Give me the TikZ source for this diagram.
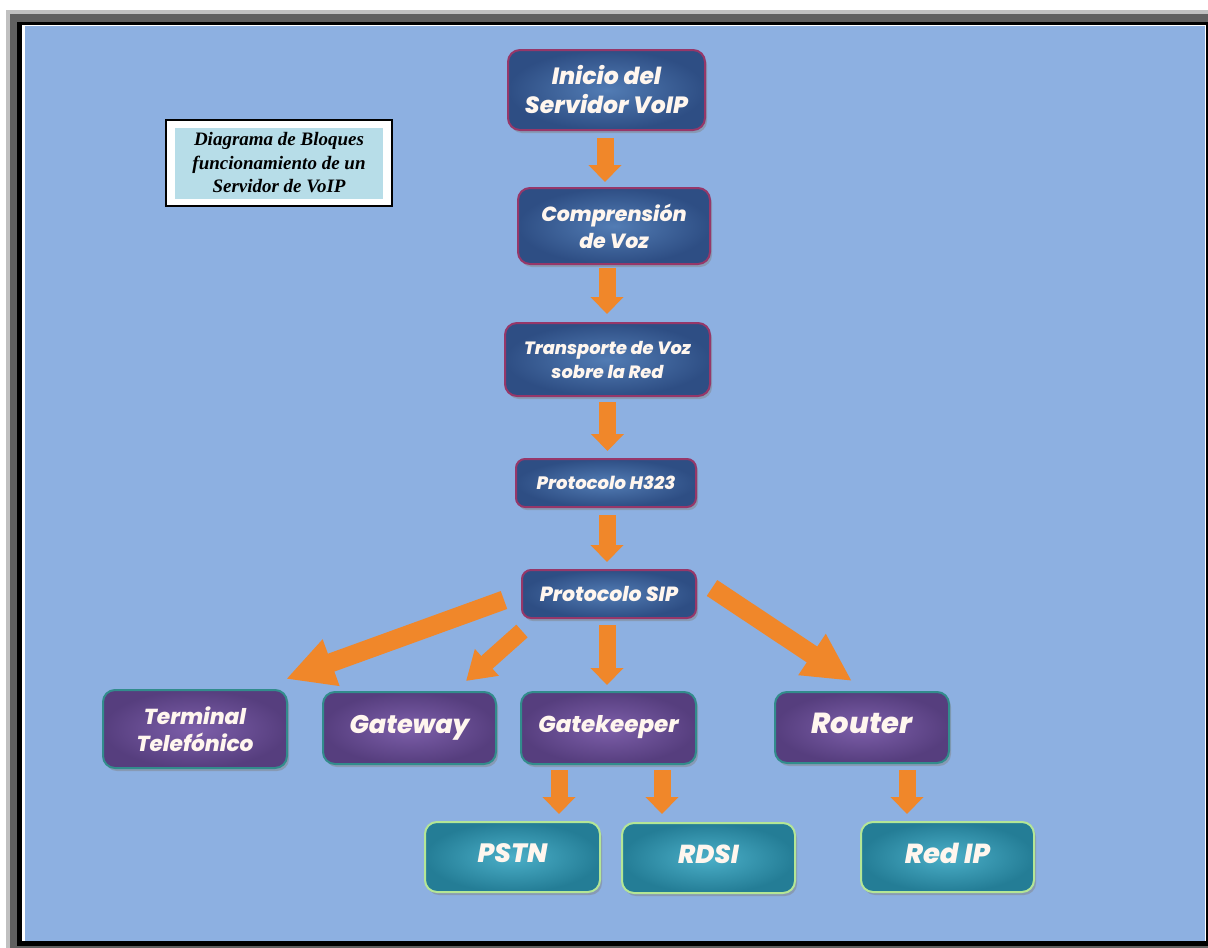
\documentclass[tikz,border=0pt]{standalone}
\usepackage{fontspec}
\newfontfamily\boxfont{Poppins}[BoldItalicFont={Poppins ExtraBold Italic}]
\newfontfamily\titlefont{Liberation Serif}
\usetikzlibrary{arrows.meta,shadows}
\definecolor{bgblue}{RGB}{141,176,225}
\definecolor{lgray}{RGB}{192,192,192}
\definecolor{dgray}{RGB}{96,96,96}
\definecolor{titlecyan}{RGB}{183,221,232}
\definecolor{blueedge}{RGB}{150,55,105}
\definecolor{bluein}{RGB}{82,124,180}
\definecolor{blueout}{RGB}{46,78,132}
\definecolor{purpedge}{RGB}{50,140,140}
\definecolor{purpin}{RGB}{125,95,170}
\definecolor{purpout}{RGB}{86,62,126}
\definecolor{tealedge}{RGB}{180,230,150}
\definecolor{tealin}{RGB}{75,175,200}
\definecolor{tealout}{RGB}{36,125,150}
\definecolor{arroworange}{RGB}{240,135,42}
\definecolor{boxtext}{RGB}{255,246,238}
\tikzset{
  box/.style={rounded corners=12pt, line width=2pt, align=center, inner sep=0pt,
    drop shadow={shadow xshift=2pt, shadow yshift=-3pt, opacity=0.45},
    text=boxtext},
  bluebox/.style={box, draw=blueedge, inner color=bluein, outer color=blueout},
  purpbox/.style={box, draw=purpedge, inner color=purpin, outer color=purpout},
  tealbox/.style={box, draw=tealedge, inner color=tealin, outer color=tealout},
  fatv/.style={draw=arroworange, line width=17pt, -{Triangle[width=32pt,length=17pt]}},
  fatd/.style={draw=arroworange, line width=19pt, -{Triangle[width=46pt,length=48pt]}},
  fatg/.style={draw=arroworange, line width=17pt, -{Triangle[width=34pt,length=28pt]}},
}
\newcommand{\bx}[2]{\boxfont\bfseries\itshape\fontsize{#1}{#2}\selectfont}
\begin{document}
\begin{tikzpicture}[x=1pt,y=-1pt]
\useasboundingbox (0,0) rectangle (1208,948);
% frame
\fill[white] (0,0) rectangle (1208,948);
\fill[lgray] (6,10) rectangle (1208,948);
\fill[dgray] (10,14) rectangle (1208,948);
\fill[black] (17,22) rectangle (1208,946);
\fill[white] (22,25) rectangle (1206,941);
\fill[bgblue] (25,26) rectangle (1205,941);

% title
\node[draw=black, line width=1.2pt, fill=white, minimum width=226pt, minimum height=86pt] (titleframe) at (279,163) {};
\node[fill=titlecyan, minimum width=208pt, minimum height=71pt, inner sep=0pt, align=center,
  font=\titlefont\bfseries\itshape\fontsize{19}{23.5}\selectfont] (title) at (279,163)
  {Diagrama de Bloques\\funcionamiento de un\\Servidor de VoIP};

% blue chain
\node[bluebox, minimum width=197pt, minimum height=80pt, font=\bx{23.5}{29}] (inicio) at (606.5,90) {Inicio del\\Servidor VoIP};
\node[bluebox, minimum width=192pt, minimum height=76pt, font=\bx{20.5}{27}] (compr) at (614,226) {Comprensión\\de Voz};
\node[bluebox, minimum width=205pt, minimum height=73pt, font=\bx{17.8}{24}] (transp) at (607.5,359.5) {Transporte de Voz\\sobre la Red};
\node[bluebox, minimum width=180pt, minimum height=48pt, rounded corners=9pt, font=\bx{18}{22}] (h323) at (606,483) {Protocolo H323};
\node[bluebox, minimum width=174pt, minimum height=48pt, rounded corners=9pt, font=\bx{20.5}{22}] (sip) at (609,594) {Protocolo SIP};

% purple row
\node[purpbox, minimum width=184pt, minimum height=78pt, font=\bx{21.7}{27}] (term) at (195,729) {Terminal\\Telefónico};
\node[purpbox, minimum width=173pt, minimum height=72pt, font=\bx{25.5}{30}] (gateway) at (409.5,728) {\raisebox{7pt}{Gateway}};
\node[purpbox, minimum width=175pt, minimum height=72pt, font=\bx{23}{28}] (gk) at (608.5,728) {\raisebox{9pt}{Gatekeeper}};
\node[purpbox, minimum width=174pt, minimum height=71pt, font=\bx{29}{32}] (router) at (862,727.5) {\raisebox{8pt}{Router}};

% teal row
\node[tealbox, minimum width=175pt, minimum height=70pt, font=\bx{26.5}{30}] (pstn) at (512.5,857) {\raisebox{8pt}{PSTN}};
\node[tealbox, minimum width=173pt, minimum height=70pt, font=\bx{26}{30}] (rdsi) at (708.5,858) {\raisebox{8pt}{RDSI}};
\node[tealbox, minimum width=173pt, minimum height=70pt, font=\bx{27.5}{30}] (redip) at (947.5,857) {\raisebox{8pt}{Red IP}};

% vertical arrows
\draw[fatv, shorten <=7pt, shorten >=5pt] ([xshift=-1.5pt]inicio.south) -- ([xshift=-1.5pt]inicio.south |- compr.north);
\draw[fatv, shorten <=3pt, shorten >=8pt] ([xshift=-7pt]compr.south) -- ([xshift=-7pt]compr.south |- transp.north);
\draw[fatv, shorten <=5pt, shorten >=7pt] (transp.south) -- (transp.south |- h323.north);
\draw[fatv, shorten <=7pt, shorten >=7pt] ([xshift=1pt]h323.south) -- ([xshift=1pt]h323.south |- sip.north);
\draw[fatv, shorten <=6pt, shorten >=6pt] ([xshift=-2pt]sip.south) -- ([xshift=-2pt]sip.south |- gk.north);
\draw[fatv, shorten <=5pt, shorten >=7pt] ([xshift=-49.5pt]gk.south) -- ([xshift=-49.5pt]gk.south |- pstn.north);
\draw[fatv, shorten <=5pt, shorten >=8pt] ([xshift=53.5pt]gk.south) -- ([xshift=53.5pt]gk.south |- rdsi.north);
\draw[fatv, shorten <=6pt, shorten >=7pt] ([xshift=45pt]router.south) -- ([xshift=45pt]router.south |- redip.north);

% diagonal arrows
\draw[fatd] ([shift={(-17,6)}]sip.west) -- ([shift={(-2,-10)}]term.north east);
\draw[fatg] ([shift={(1,12)}]sip.south west) -- ([shift={(-31,-10)}]gateway.north east);
\draw[fatd] ([shift={(15,-6)}]sip.east) -- ([shift={(-10,-10)}]router.north);
\end{tikzpicture}
\end{document}
